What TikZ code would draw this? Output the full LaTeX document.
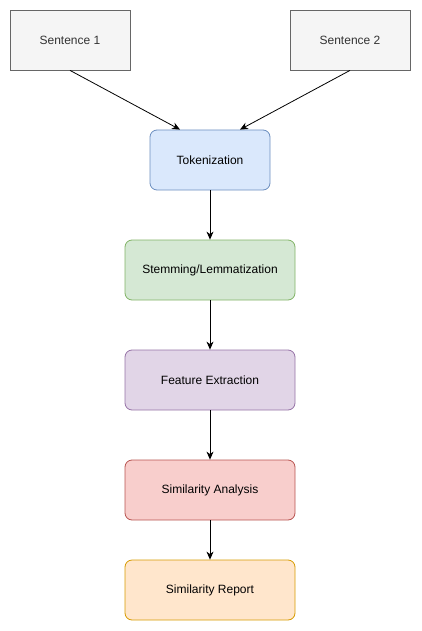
\documentclass[tikz,border=0pt]{standalone}
\usepackage{fontspec}
\setmainfont{Liberation Sans}
\usetikzlibrary{arrows.meta}
\definecolor{grayfill}{HTML}{F5F5F5}
\definecolor{grayline}{HTML}{666666}
\definecolor{graytext}{HTML}{333333}
\definecolor{bluefill}{HTML}{DAE8FC}
\definecolor{blueline}{HTML}{6C8EBF}
\definecolor{greenfill}{HTML}{D5E8D4}
\definecolor{greenline}{HTML}{82B366}
\definecolor{purplefill}{HTML}{E1D5E7}
\definecolor{purpleline}{HTML}{9673A6}
\definecolor{redfill}{HTML}{F8CECC}
\definecolor{redline}{HTML}{B85450}
\definecolor{orangefill}{HTML}{FFE6CC}
\definecolor{orangeline}{HTML}{D79B00}
\begin{document}
\begin{tikzpicture}[x=1pt,y=-1pt,
  base/.style={draw, line width=0.8pt, font=\fontsize{12}{14}\selectfont, inner sep=0pt},
  inbox/.style={base, fill=grayfill, draw=grayline, text=graytext, minimum width=120pt, minimum height=60pt},
  stage/.style={base, rounded corners=7pt, minimum height=60pt},
  conn/.style={-{Stealth[length=8pt,width=7pt,inset=2.5pt]}, line width=0.8pt}
]
\useasboundingbox (0,0) rectangle (421,631);
\node[inbox] (s1) at (70,40) {Sentence 1};
\node[inbox] (s2) at (350,40) {Sentence 2};
\node[stage, fill=bluefill, draw=blueline, minimum width=120pt] (tok) at (210,160) {Tokenization};
\node[stage, fill=greenfill, draw=greenline, minimum width=170pt] (stem) at (210,270) {Stemming/Lemmatization};
\node[stage, fill=purplefill, draw=purpleline, minimum width=170pt] (feat) at (210,380) {Feature Extraction};
\node[stage, fill=redfill, draw=redline, minimum width=170pt] (sim) at (210,490) {Similarity Analysis};
\node[stage, fill=orangefill, draw=orangeline, minimum width=170pt] (rep) at (210,590) {Similarity Report};
\draw[conn] (s1.south) -- ([xshift=-30pt]tok.north);
\draw[conn] (s2.south) -- ([xshift=30pt]tok.north);
\draw[conn] (tok) -- (stem);
\draw[conn] (stem) -- (feat);
\draw[conn] (feat) -- (sim);
\draw[conn] (sim) -- (rep);
\end{tikzpicture}
\end{document}
